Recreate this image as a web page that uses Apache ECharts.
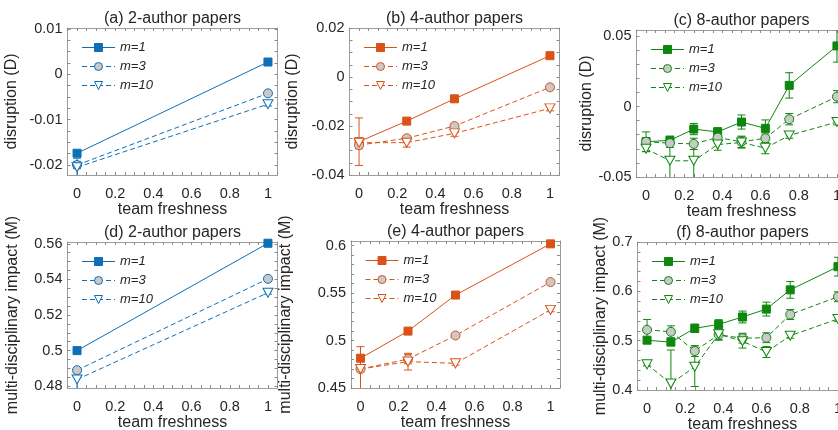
<!DOCTYPE html>
<html>
<head>
<meta charset="utf-8">
<script src="https://cdn.jsdelivr.net/npm/echarts@6/dist/echarts.min.js"></script>
<style>
  html, body { margin: 0; padding: 0; background: #fff; }
  #chart { width: 838px; height: 430px; }
</style>
</head>
<body>
<div id="chart"></div>
<script>
// team freshness positions
const freshTwo = [0, 1];
const freshFour = [0, 0.25, 0.5, 1];
const freshEight = [0, 0.125, 0.25, 0.375, 0.5, 0.625, 0.75, 1];

// (a) disruption, 2-author
const dis2m1 = [-0.0174, 0.0027];
const dis2m1Err = [0.0004, 0.0003];
const dis2m3 = [-0.0200, -0.0042];
const dis2m3Err = [0.0008, 0.0004];
const dis2m10 = [-0.0205, -0.0066];
const dis2m10Err = [0.002, 0.0004];

// (b) disruption, 4-author
const dis4m1 = [-0.0264, -0.018, -0.0089, 0.0087];
const dis4m1Err = [0.0097, 0.0008, 0.0008, 0.0012];
const dis4m3 = [-0.0278, -0.025, -0.020, -0.0042];
const dis4m3Err = [0.0015, 0.001, 0.001, 0.001];
const dis4m10 = [-0.0268, -0.0268, -0.023, -0.0128];
const dis4m10Err = [0.0012, 0.0018, 0.0012, 0.001];

// (c) disruption, 8-author
const dis8m1 = [-0.025, -0.024, -0.016, -0.018, -0.011, -0.0155, 0.015, 0.043];
const dis8m1Err = [0.007, 0.003, 0.004, 0.003, 0.005, 0.006, 0.009, 0.0115];
const dis8m3 = [-0.025, -0.026, -0.0265, -0.022, -0.025, -0.0225, -0.009, 0.007];
const dis8m3Err = [0.003, 0.003, 0.004, 0.003, 0.004, 0.003, 0.004, 0.0043];
const dis8m10 = [-0.030, -0.0385, -0.0385, -0.027, -0.0255, -0.0295, -0.0205, -0.011];
const dis8m10Err = [0.002, 0.012, 0.012, 0.004, 0.004, 0.004, 0.002, 0.002];

// (d) multi-disciplinary impact, 2-author
const mul2m1 = [0.5000, 0.5603];
const mul2m1Err = [0.0005, 0.0005];
const mul2m3 = [0.4890, 0.5403];
const mul2m3Err = [0.0015, 0.0008];
const mul2m10 = [0.4838, 0.5325];
const mul2m10Err = [0.005, 0.0008];

// (e) multi-disciplinary impact, 4-author
const mul4m1 = [0.4814, 0.510, 0.548, 0.602];
const mul4m1Err = [0.003, 0.002, 0.002, 0.003];
const mul4m3 = [0.470, 0.4805, 0.5054, 0.5617];
const mul4m3Err = [0.003, 0.005, 0.002, 0.002];
const mul4m10 = [0.470, 0.4778, 0.476, 0.5324];
const mul4m10Err = [0.0236, 0.0088, 0.002, 0.002];

// (f) multi-disciplinary impact, 8-author
const mul8m1 = [0.501, 0.497, 0.525, 0.533, 0.548, 0.564, 0.603, 0.650];
const mul8m1Err = [0.006, 0.006, 0.0085, 0.0095, 0.012, 0.014, 0.017, 0.019];
const mul8m3 = [0.522, 0.518, 0.479, 0.512, 0.505, 0.506, 0.553, 0.589];
const mul8m3Err = [0.021, 0.012, 0.011, 0.01, 0.01, 0.01, 0.01, 0.01];
const mul8m10 = [0.452, 0.413, 0.447, 0.513, 0.499, 0.477, 0.510, 0.544];
const mul8m10Err = [0.003, 0.068, 0.04, 0.012, 0.014, 0.011, 0.005, 0.005];

// tick labels
const xTicks = [0, 0.2, 0.4, 0.6, 0.8, 1];
const yTicksA = [-0.02, -0.01, 0, 0.01];
const yTicksB = [-0.04, -0.02, 0, 0.02];
const yTicksC = [-0.05, 0, 0.05];
const yTicksD = [0.48, 0.5, 0.52, 0.54, 0.56];
const yTicksE = [0.45, 0.5, 0.55, 0.6];
const yTicksF = [0.4, 0.5, 0.6, 0.7];

const legendNames = ['m=1', 'm=3', 'm=10'];

const BLUE = '#0d6fb8';
const ORANGE = '#d95319';
const GREEN = '#0f870f';
const TXT = '#262626';
const BOX = '#9c9c9c';
const FONT = 'Liberation Sans, Arial, sans-serif';

const panels = [
  { title: '(a) 2-author papers', yName: 'disruption (D)', color: BLUE, x: freshTwo,
    ys: [dis2m1, dis2m3, dis2m10], errs: [dis2m1Err, dis2m3Err, dis2m10Err], nameGap: 48,
    left: 67.5, top: 28, width: 210, height: 147, ymin: -0.0222, ymax: 0.0102, yTicks: yTicksA, yStep: 0.0025 },
  { title: '(b) 4-author papers', yName: 'disruption (D)', color: ORANGE, x: freshFour,
    ys: [dis4m1, dis4m3, dis4m10], errs: [dis4m1Err, dis4m3Err, dis4m10Err], nameGap: 48.5,
    left: 349.5, top: 28, width: 210, height: 147, ymin: -0.04, ymax: 0.02, yTicks: yTicksB, yStep: 0.005 },
  { title: '(c) 8-author papers', yName: 'disruption (D)', color: GREEN, x: freshEight,
    ys: [dis8m1, dis8m3, dis8m10], errs: [dis8m1Err, dis8m3Err, dis8m10Err], nameGap: 39.5,
    left: 636.5, top: 30, width: 210, height: 147, ymin: -0.05, ymax: 0.0543, yTicks: yTicksC, yStep: 0.01 },
  { title: '(d) 2-author papers', yName: 'multi-disciplinary impact (M)', color: BLUE, x: freshTwo,
    ys: [mul2m1, mul2m3, mul2m10], errs: [mul2m1Err, mul2m3Err, mul2m10Err], nameGap: 47,
    left: 67.5, top: 242, width: 210, height: 146, ymin: 0.479, ymax: 0.561, yTicks: yTicksD, yStep: 0.005 },
  { title: '(e) 4-author papers', yName: 'multi-disciplinary impact (M)', color: ORANGE, x: freshFour,
    ys: [mul4m1, mul4m3, mul4m10], errs: [mul4m1Err, mul4m3Err, mul4m10Err], nameGap: 57,
    left: 351, top: 241, width: 209, height: 147, ymin: 0.45, ymax: 0.605, yTicks: yTicksE, yStep: 0.01 },
  { title: '(f) 8-author papers', yName: 'multi-disciplinary impact (M)', color: GREEN, x: freshEight,
    ys: [mul8m1, mul8m3, mul8m10], errs: [mul8m1Err, mul8m3Err, mul8m10Err], nameGap: 27,
    left: 637.5, top: 242, width: 210, height: 148, ymin: 0.4, ymax: 0.7, yTicks: yTicksF, yStep: 0.02 }
];

// marker styles for m=1, m=3, m=10
const markers = [
  { symbol: 'rect', size: 8, fill: null, dash: 'solid' },
  { symbol: 'circle', size: 9, fill: '#c9c9c9', dash: [5, 3] },
  { symbol: 'path://M0,0L10,0L5,9Z', size: [10, 9], fill: '#ffffff', dash: [5, 3] }
];

function steps(min, max, step) {
  const out = [];
  const k0 = Math.ceil(min / step - 1e-9);
  const k1 = Math.floor(max / step + 1e-9);
  for (let k = k0; k <= k1; k++) out.push(Math.round(k * step * 1e6) / 1e6);
  return out;
}

function errorBar(color) {
  return function (params, api) {
    const cs = params.coordSys;
    const x = api.value(0), y = api.value(1), e = api.value(2);
    const hi = api.coord([x, y + e]);
    const lo = api.coord([x, y - e]);
    const yTop = cs.y, yBot = cs.y + cs.height;
    const cap = 4;
    const style = { stroke: color, lineWidth: 1, fill: null };
    const kids = [{
      type: 'line',
      shape: { x1: hi[0], y1: Math.max(hi[1], yTop), x2: lo[0], y2: Math.min(lo[1], yBot) },
      style: style
    }];
    if (hi[1] >= yTop) kids.push({ type: 'line', shape: { x1: hi[0] - cap, y1: hi[1], x2: hi[0] + cap, y2: hi[1] }, style: style });
    if (lo[1] <= yBot) kids.push({ type: 'line', shape: { x1: lo[0] - cap, y1: lo[1], x2: lo[0] + cap, y2: lo[1] }, style: style });
    return { type: 'group', children: kids };
  };
}

const grid = [], xAxis = [], yAxis = [], title = [], legend = [], series = [];
const xMinor = steps(-0.05, 1.05, 0.05);

panels.forEach(function (p, i) {
  grid.push({ left: p.left, top: p.top, width: p.width, height: p.height,
    outerBoundsMode: 'none', containLabel: false });

  const yMinor = steps(p.ymin, p.ymax, p.yStep);
  const tickStyle = { show: true, inside: true, length: 3, lineStyle: { color: '#8a8a8a', width: 1 } };
  const boxLine = { show: true, onZero: false, lineStyle: { color: BOX, width: 1 } };

  xAxis.push({
    type: 'value', gridIndex: i, position: 'bottom', min: -0.05, max: 1.05,
    name: 'team freshness', nameLocation: 'middle', nameGap: 24,
    nameTextStyle: { fontSize: 16, color: TXT, fontFamily: FONT },
    axisLine: boxLine, splitLine: { show: false },
    axisTick: Object.assign({ customValues: xMinor }, tickStyle),
    axisLabel: { customValues: xTicks, margin: 11, fontSize: 14.5, color: TXT, fontFamily: FONT }
  });
  xAxis.push({
    type: 'value', gridIndex: i, position: 'top', min: -0.05, max: 1.05,
    axisLine: boxLine, splitLine: { show: false },
    axisTick: Object.assign({ customValues: xMinor }, tickStyle),
    axisLabel: { show: false }
  });
  yAxis.push({
    type: 'value', gridIndex: i, position: 'left', min: p.ymin, max: p.ymax,
    name: p.yName, nameLocation: 'middle', nameGap: p.nameGap,
    nameTextStyle: { fontSize: 16, color: TXT, fontFamily: FONT },
    axisLine: boxLine, splitLine: { show: false },
    axisTick: Object.assign({ customValues: yMinor }, tickStyle),
    axisLabel: { customValues: p.yTicks, margin: 5, fontSize: 14.5, color: TXT, fontFamily: FONT }
  });
  yAxis.push({
    type: 'value', gridIndex: i, position: 'right', min: p.ymin, max: p.ymax,
    axisLine: boxLine, splitLine: { show: false },
    axisTick: Object.assign({ customValues: yMinor }, tickStyle),
    axisLabel: { show: false }
  });

  title.push({
    text: p.title, left: p.left + p.width / 2, top: p.top - 17, textAlign: 'center',
    padding: 0,
    textStyle: { fontSize: 16, fontWeight: 'normal', color: TXT, fontFamily: FONT }
  });

  const names = legendNames.map(function (n) { return i + '|' + n; });
  legend.push({
    data: names, orient: 'vertical', left: p.left + 14, top: p.top + 13,
    padding: 0, itemGap: 6, itemWidth: 33, itemHeight: 10,
    lineStyle: { width: 1 },
    itemStyle: { borderWidth: 1 },
    formatter: function (n) { return n.split('|')[1]; },
    textStyle: { fontSize: 13, fontStyle: 'italic', color: TXT, fontFamily: FONT }
  });

  p.ys.forEach(function (vals, k) {
    const mk = markers[k];
    const errs = p.errs[k];
    series.push({
      type: 'custom', name: names[k] + ' err', xAxisIndex: 2 * i, yAxisIndex: 2 * i,
      clip: true, z: 1, silent: true,
      encode: { x: 0, y: 1 },
      data: p.x.map(function (x, j) { return [x, vals[j], errs[j]]; }),
      renderItem: errorBar(p.color)
    });
    series.push({
      type: 'line', name: names[k], xAxisIndex: 2 * i, yAxisIndex: 2 * i, z: 3,
      data: p.x.map(function (x, j) { return [x, vals[j]]; }),
      symbol: mk.symbol, symbolSize: mk.size, showSymbol: true,
      color: p.color,
      lineStyle: { color: p.color, width: 1, type: mk.dash },
      itemStyle: { color: mk.fill || p.color, borderColor: p.color, borderWidth: 1 }
    });
  });
});

const chart = echarts.init(document.getElementById('chart'));
chart.setOption({
  animation: false,
  backgroundColor: '#ffffff',
  title: title,
  legend: legend,
  grid: grid,
  xAxis: xAxis,
  yAxis: yAxis,
  series: series
});
</script>
</body>
</html>
